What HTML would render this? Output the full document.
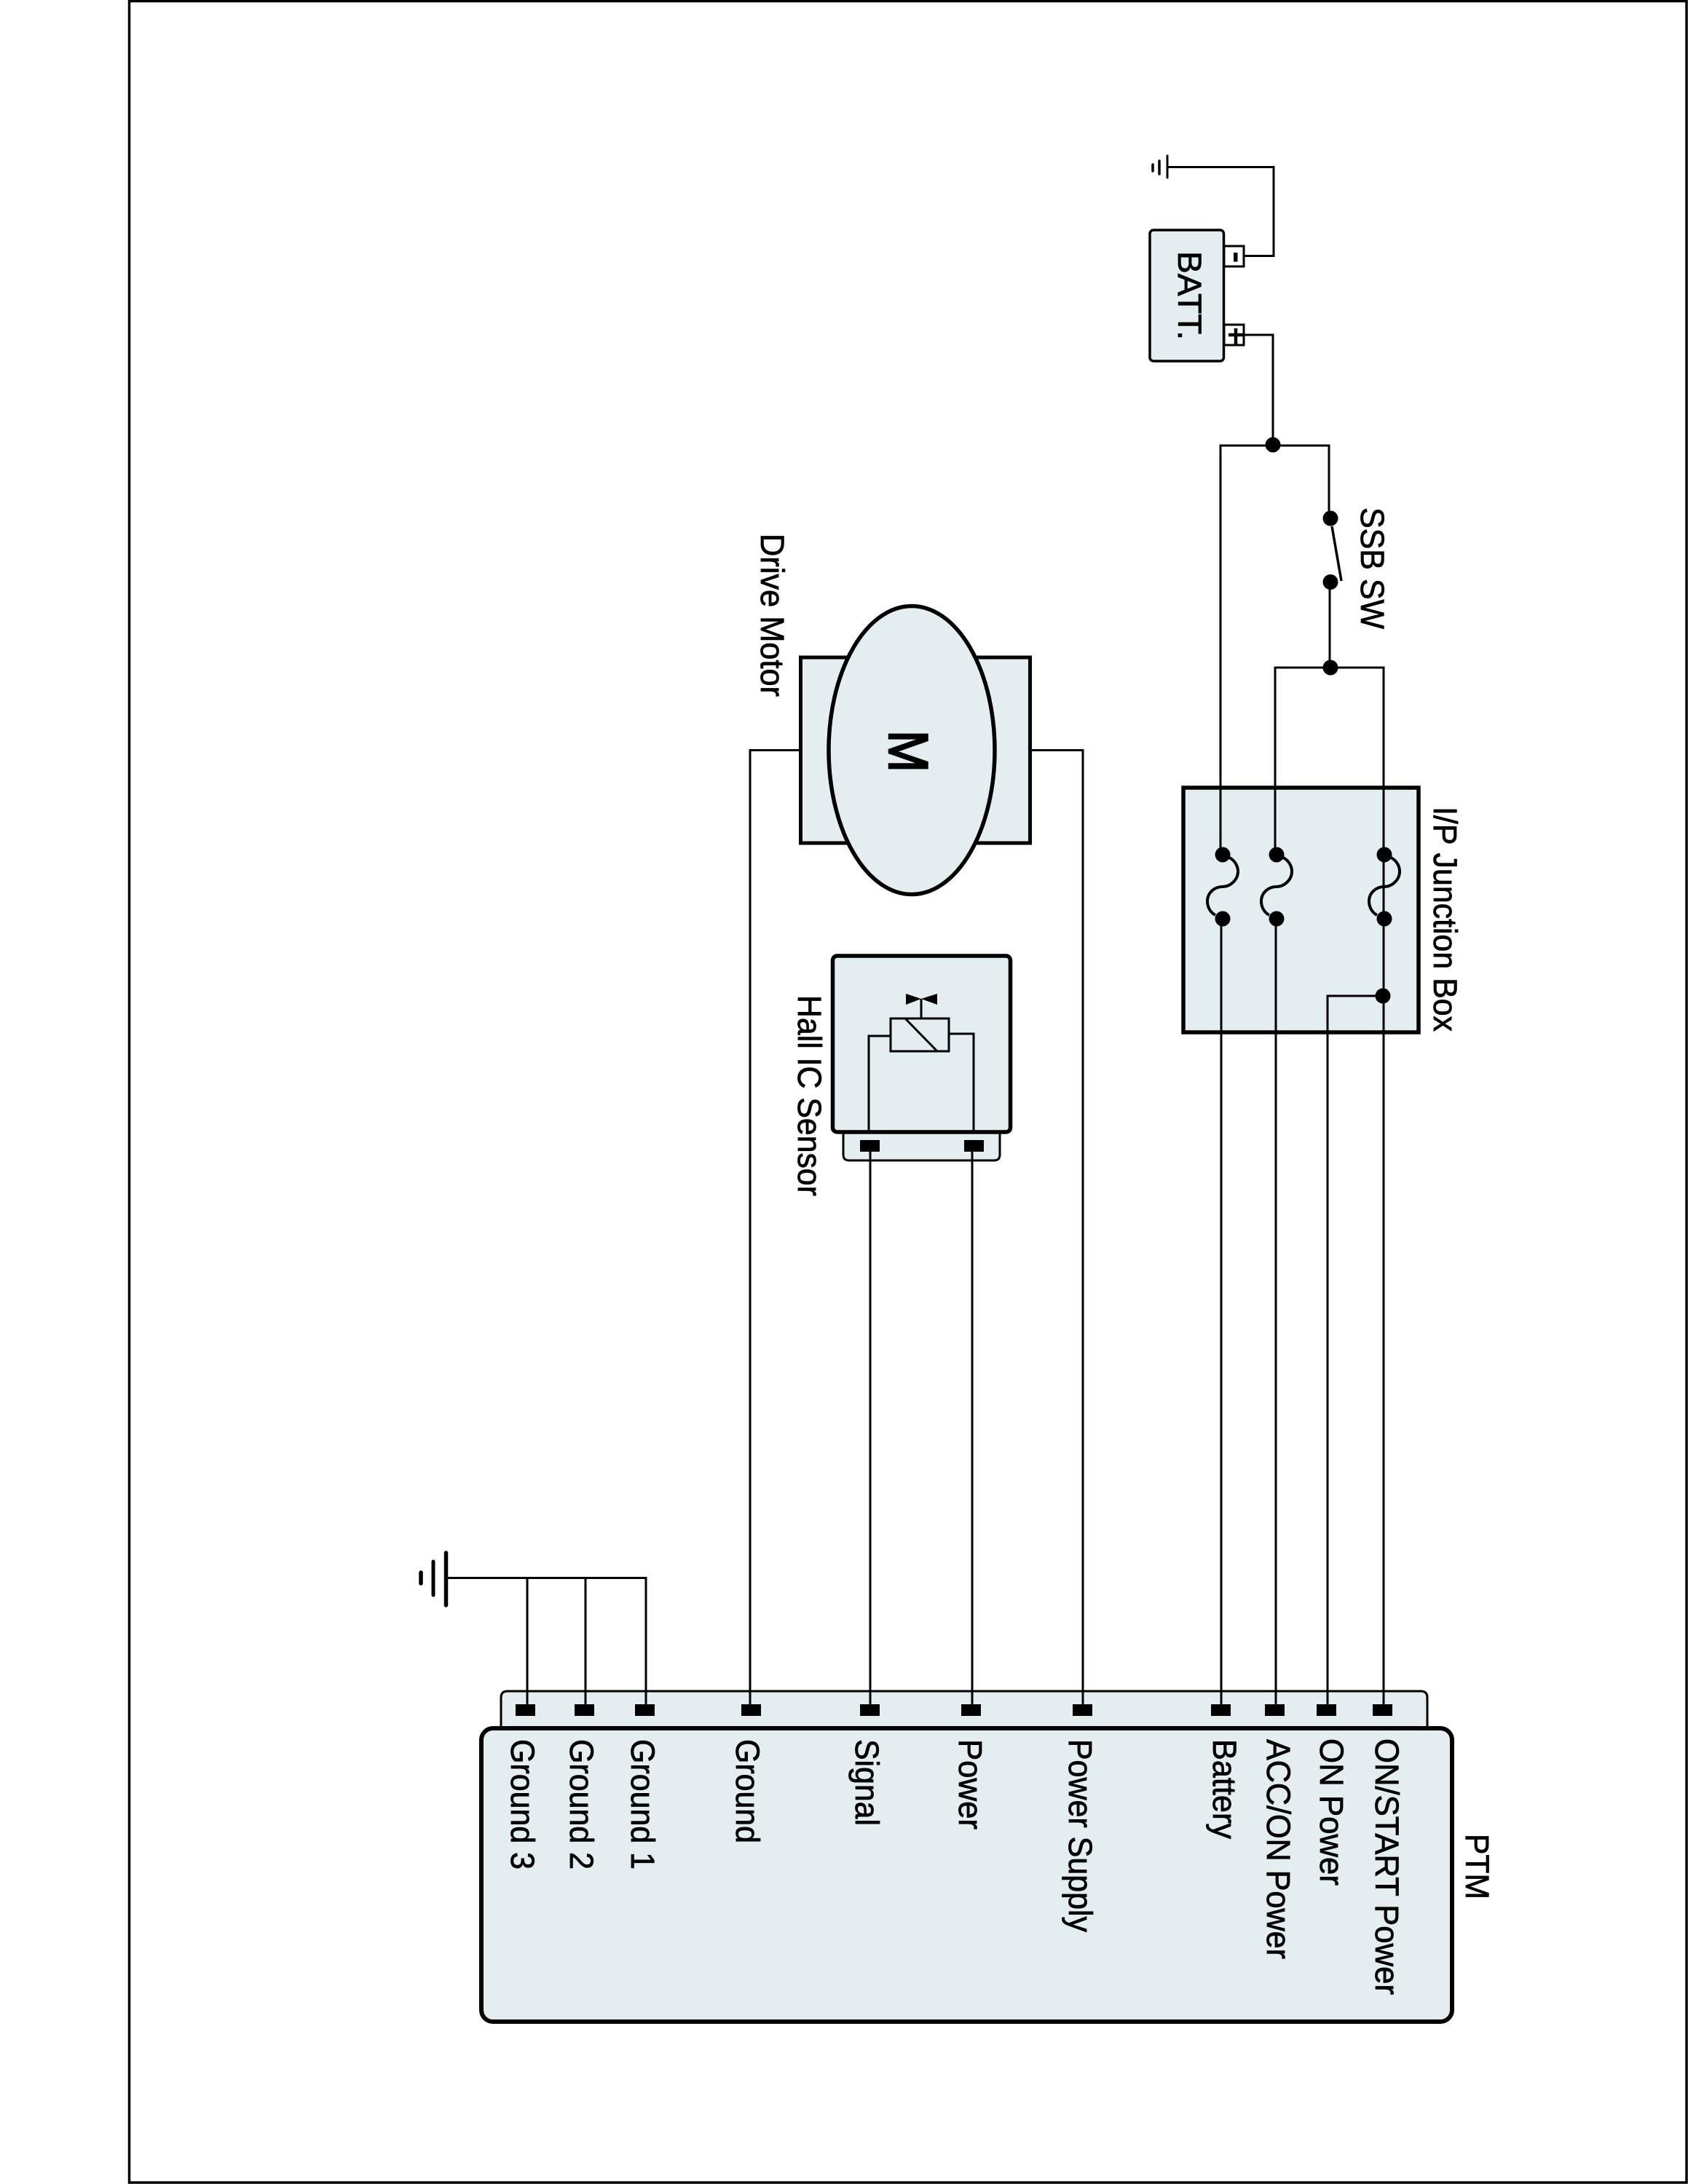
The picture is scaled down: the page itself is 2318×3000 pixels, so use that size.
<!DOCTYPE html>
<html><head><meta charset="utf-8"><title>PTM wiring diagram</title>
<style>html,body{margin:0;padding:0;background:#fff}svg{display:block}
text{font-family:"Liberation Sans",Arial,sans-serif;font-size:45px;fill:#000;stroke:#000;stroke-width:.8}</style></head>
<body>
<svg xmlns="http://www.w3.org/2000/svg" width="2318" height="3000" viewBox="0 0 2318 3000">
<rect x="177.5" y="1.5" width="2138.5" height="2996.5" fill="#fff" stroke="#000" stroke-width="3.5"/>

<!-- PTM -->
<path d="M688 2374V2332Q688 2323 697 2323H1951Q1960 2323 1960 2332V2374Z" fill="#e4edef" stroke="#000" stroke-width="3"/>
<rect x="661" y="2374" width="1333" height="403" rx="16" fill="#e4edef" stroke="#000" stroke-width="6"/>

<!-- Hall sensor connector and body -->
<path d="M1158 1556V1586Q1158 1594 1166 1594H1365Q1373 1594 1373 1586V1556Z" fill="#e4edef" stroke="#000" stroke-width="3"/>
<rect x="1143.5" y="1313" width="244" height="242" rx="6" fill="#e4edef" stroke="#000" stroke-width="5.5"/>

<!-- Motor -->
<rect x="1099.5" y="903" width="315" height="255" fill="#e4edef" stroke="#000" stroke-width="5"/>
<ellipse cx="1252" cy="1030.5" rx="114" ry="198" fill="#e4edef" stroke="#000" stroke-width="5.5"/>

<!-- Junction box -->
<rect x="1625" y="1082" width="323" height="336" fill="#e4edef" stroke="#000" stroke-width="5.5"/>

<!-- Battery -->
<rect x="1579" y="316" width="101.5" height="180" rx="5" fill="#e4edef" stroke="#000" stroke-width="3.5"/>
<rect x="1681" y="338" width="27" height="28" fill="#fff" stroke="#000" stroke-width="3"/>
<rect x="1681" y="446" width="27" height="28" fill="#fff" stroke="#000" stroke-width="3"/>
<rect x="1694" y="347" width="5.5" height="12.5" fill="#000"/>
<path d="M1687 460H1708M1697 451V473" stroke="#000" stroke-width="4.5" fill="none"/>

<!-- Wires -->
<g fill="none" stroke="#000" stroke-width="3">
<path d="M1603 229.5H1749V351.5H1708"/>
<path d="M1708 460H1748V612"/>
<path d="M1676 1174V612H1825V712"/>
<path d="M1826 800V917"/>
<path d="M1751 1174V917H1900V1262"/>
<path d="M1677 1262V2341M1752 1262V2341M1900 1262V2341"/>
<path d="M1899 1368H1823V2341"/>
<path d="M612 2167.5H887V2341M724 2167.5V2341M804 2167.5V2341"/>
<path d="M1098 1030.5H1030V2341"/>
<path d="M1416 1030.5H1487V2341"/>
<path d="M1195 1582V2341M1335 1582V2341"/>
<path d="M1223 1423H1193V1556M1303 1420H1337V1556"/>
<path d="M1265 1398V1372"/>
<path d="M1829 723L1842 798" stroke-width="3.5"/>
</g>

<!-- Ground symbols -->
<g stroke="#000" fill="none" stroke-linecap="round">
<path d="M1603 214V244" stroke-width="3"/>
<path d="M1592 221V239" stroke-width="3.5"/>
<path d="M1583 226V235" stroke-width="3.5"/>
<path d="M612.5 2133V2205" stroke-width="5.5"/>
<path d="M595 2145V2191" stroke-width="5"/>
<path d="M578 2160V2175" stroke-width="5.5"/>
</g>

<!-- Relay symbol -->
<rect x="1223" y="1399" width="80" height="45" fill="#e4edef" stroke="#000" stroke-width="3"/>
<path d="M1243 1399L1287 1444" stroke="#000" stroke-width="3" fill="none"/>
<polygon points="1244,1365 1265,1372 1287,1365 1287,1380 1265,1372 1244,1380" fill="#000"/>

<!-- Junction dots -->
<g fill="#000">
<circle cx="1748" cy="611" r="10.5"/>
<circle cx="1827" cy="712" r="10.5"/>
<circle cx="1827" cy="799.5" r="10.5"/>
<circle cx="1827" cy="917" r="10.5"/>
<circle cx="1679" cy="1174" r="10.5"/><circle cx="1679" cy="1262" r="10.5"/>
<circle cx="1753" cy="1174" r="10.5"/><circle cx="1753" cy="1262" r="10.5"/>
<circle cx="1901" cy="1174" r="10.5"/><circle cx="1901" cy="1262" r="10.5"/>
<circle cx="1899" cy="1368" r="10.5"/>
</g>

<!-- Fuses -->
<g fill="none" stroke="#000" stroke-width="4">
<path d="M1688 1178C1696 1182 1700 1190 1700 1197C1700 1209 1689 1218 1679 1218C1668 1218 1658 1226 1658 1238C1658 1247 1663 1254 1669 1257"/>
<path d="M1762 1178C1770 1182 1774 1190 1774 1197C1774 1209 1763 1218 1753 1218C1742 1218 1732 1226 1732 1238C1732 1247 1737 1254 1743 1257"/>
<path d="M1910 1178C1918 1182 1922 1190 1922 1197C1922 1209 1911 1218 1901 1218C1890 1218 1880 1226 1880 1238C1880 1247 1885 1254 1891 1257"/>
</g>

<!-- Pins -->
<g fill="#000">
<rect x="708" y="2341" width="27" height="16"/>
<rect x="789" y="2341" width="27" height="16"/>
<rect x="872" y="2341" width="27" height="16"/>
<rect x="1018" y="2341" width="27" height="16"/>
<rect x="1181" y="2341" width="27" height="16"/>
<rect x="1320" y="2341" width="27" height="16"/>
<rect x="1473" y="2341" width="27" height="16"/>
<rect x="1663" y="2341" width="27" height="16"/>
<rect x="1737" y="2341" width="27" height="16"/>
<rect x="1808" y="2341" width="27" height="16"/>
<rect x="1885" y="2341" width="27" height="16"/>
<rect x="1181" y="1566" width="27" height="16"/>
<rect x="1324" y="1566" width="27" height="16"/>
</g>

<!-- Labels -->
<text transform="translate(1618,345) rotate(90)" textLength="122" lengthAdjust="spacingAndGlyphs">BATT.</text>
<text transform="translate(1869,697) rotate(90)" textLength="167" lengthAdjust="spacingAndGlyphs">SSB SW</text>
<text transform="translate(1969,1108) rotate(90)" textLength="309" lengthAdjust="spacingAndGlyphs">I/P Junction Box</text>
<text transform="translate(1045,733) rotate(90)" textLength="224" lengthAdjust="spacingAndGlyphs">Drive Motor</text>
<text transform="translate(1096,1367) rotate(90)" textLength="276" lengthAdjust="spacingAndGlyphs">Hall IC Sensor</text>
<text transform="translate(1221,1003) rotate(90)" textLength="58" lengthAdjust="spacingAndGlyphs" style="font-size:76px;stroke-width:2.5">M</text>
<text transform="translate(2013,2519) rotate(90)" textLength="90" lengthAdjust="spacingAndGlyphs">PTM</text>
<text transform="translate(702,2389) rotate(90)" textLength="179" lengthAdjust="spacingAndGlyphs">Ground 3</text>
<text transform="translate(783,2389) rotate(90)" textLength="179" lengthAdjust="spacingAndGlyphs">Ground 2</text>
<text transform="translate(867,2389) rotate(90)" textLength="179" lengthAdjust="spacingAndGlyphs">Ground 1</text>
<text transform="translate(1011,2389) rotate(90)" textLength="143" lengthAdjust="spacingAndGlyphs">Ground</text>
<text transform="translate(1175,2389) rotate(90)" textLength="119" lengthAdjust="spacingAndGlyphs">Signal</text>
<text transform="translate(1317,2389) rotate(90)" textLength="124" lengthAdjust="spacingAndGlyphs">Power</text>
<text transform="translate(1468,2389) rotate(90)" textLength="265" lengthAdjust="spacingAndGlyphs">Power Supply</text>
<text transform="translate(1666,2389) rotate(90)" textLength="137" lengthAdjust="spacingAndGlyphs">Battery</text>
<text transform="translate(1740,2389) rotate(90)" textLength="302" lengthAdjust="spacingAndGlyphs">ACC/ON Power</text>
<text transform="translate(1813,2388) rotate(90)" textLength="202" lengthAdjust="spacingAndGlyphs">ON Power</text>
<text transform="translate(1889,2388) rotate(90)" textLength="352" lengthAdjust="spacingAndGlyphs">ON/START Power</text>
</svg>
</body></html>
